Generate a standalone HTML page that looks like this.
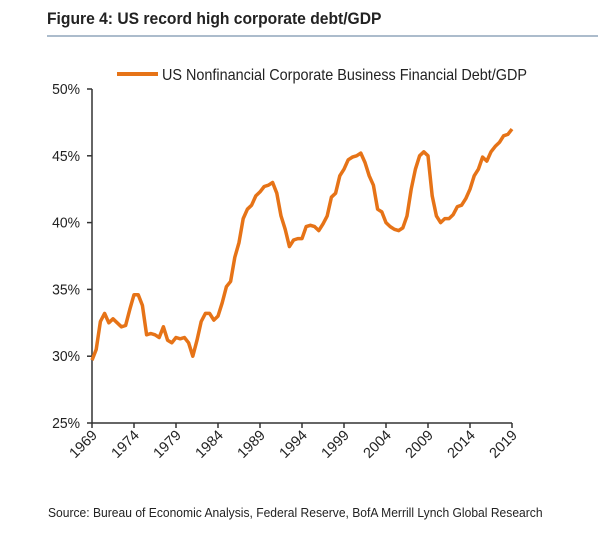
<!DOCTYPE html>
<html><head><meta charset="utf-8"><style>
body{margin:0;background:#fff;width:604px;height:528px;overflow:hidden;font-family:"Liberation Sans",Arial,sans-serif;}
</style></head><body>
<svg width="604" height="528" xmlns="http://www.w3.org/2000/svg">
<text x="47" y="24" font-size="17" font-weight="bold" fill="#222" transform="scale(0.92,1)" transform-origin="47 24">Figure 4: US record high corporate debt/GDP</text>
<line x1="47" y1="36" x2="598" y2="36" stroke="#5a7a9a" stroke-width="1"/>
<line x1="117" y1="74" x2="158" y2="74" stroke="#E67317" stroke-width="4"/>
<text x="162" y="80" font-size="15.5" fill="#222" transform="scale(0.93,1)" transform-origin="162 80">US Nonfinancial Corporate Business Financial Debt/GDP</text>
<g id="axes"></g>
<path id="series" fill="none" stroke="#E67317" stroke-width="3.5" stroke-linejoin="round"/>
<text x="48" y="517" font-size="13" fill="#222" transform="scale(0.93,1)" transform-origin="48 517">Source: Bureau of Economic Analysis, Federal Reserve, BofA Merrill Lynch Global Research</text>
</svg>
<script>
const years=[1969,1969.5,1970,1970.5,1971,1971.5,1972,1972.5,1973,1973.5,1974,1974.5,1975,1975.5,1976,1976.5,1977,1977.5,1978,1978.5,1979,1979.5,1980,1980.5,1981,1981.5,1982,1982.5,1983,1983.5,1984,1984.5,1985,1985.5,1986,1986.5,1987,1987.5,1988,1988.5,1989,1989.5,1990,1990.5,1991,1991.5,1992,1992.5,1993,1993.5,1994,1994.5,1995,1995.5,1996,1996.5,1997,1997.5,1998,1998.5,1999,1999.5,2000,2000.5,2001,2001.5,2002,2002.5,2003,2003.5,2004,2004.5,2005,2005.5,2006,2006.5,2007,2007.5,2008,2008.5,2009,2009.5,2010,2010.5,2011,2011.5,2012,2012.5,2013,2013.5,2014,2014.5,2015,2015.5,2016,2016.5,2017,2017.5,2018,2018.5,2019];
const values=[29.7,30.5,32.6,33.2,32.5,32.8,32.5,32.2,32.3,33.5,34.6,34.6,33.8,31.6,31.7,31.6,31.4,32.2,31.2,31.0,31.4,31.3,31.4,31.0,30.0,31.2,32.6,33.2,33.2,32.7,33.0,34.0,35.2,35.6,37.4,38.5,40.3,41.0,41.3,42.0,42.3,42.7,42.8,43.0,42.2,40.5,39.5,38.2,38.7,38.8,38.8,39.7,39.8,39.7,39.4,39.9,40.5,41.9,42.2,43.5,44.0,44.7,44.9,45.0,45.2,44.5,43.5,42.8,41.0,40.8,40.0,39.7,39.5,39.4,39.6,40.5,42.5,44.0,45.0,45.3,45.0,42.0,40.5,40.0,40.3,40.3,40.6,41.2,41.3,41.8,42.5,43.5,44.0,44.9,44.6,45.3,45.7,46.0,46.5,46.6,47.0];
const yTicks=[25,30,35,40,45,50];
const xTicks=[1969,1974,1979,1984,1989,1994,1999,2004,2009,2014,2019];
const X=v=>92+(v-1969)*(512-92)/50;
const Y=v=>423-(v-25)*(423-89)/25;
const NS='http://www.w3.org/2000/svg';
const g=document.getElementById('axes');
function mk(t,a){const e=document.createElementNS(NS,t);for(const k in a)e.setAttribute(k,a[k]);g.appendChild(e);return e;}
let e=mk('line',{x1:92,y1:89,x2:92,y2:423,stroke:'#333','stroke-width':1.5});


e=mk('line',{x1:92,y1:423,x2:512,y2:423,stroke:'#333','stroke-width':1.5});


yTicks.forEach(v=>{
 let t=mk('line',{x1:87,y1:Y(v),x2:92,y2:Y(v),stroke:'#333','stroke-width':1.5});
 
 
 let l=mk('text',{x:80,y:Y(v)+5,'font-size':15,fill:'#222','text-anchor':'end',transform:`scale(0.93,1)`,'transform-origin':`80 ${Y(v)}`});
 l.textContent=v+'%';
 
 
});
xTicks.forEach(v=>{
 let t=mk('line',{x1:X(v),y1:423,x2:X(v),y2:428,stroke:'#333','stroke-width':1.5});
 
 
 let l=mk('text',{x:X(v)+6,y:436,'font-size':14.5,fill:'#222','text-anchor':'end',transform:`rotate(-45 ${X(v)+6} 436)`});
 l.textContent=v;
 
 
});
document.getElementById('series').setAttribute('d',years.map((y,i)=>(i?'L':'M')+X(y).toFixed(1)+','+Y(values[i]).toFixed(1)).join(''));
</script>
</body></html>
